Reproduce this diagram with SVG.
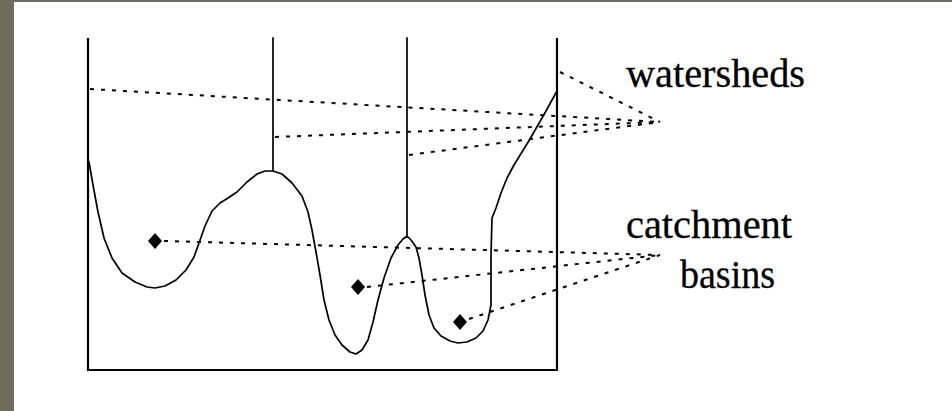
<svg xmlns="http://www.w3.org/2000/svg" width="952" height="411" viewBox="0 0 952 411">
  <style>
    .solid { fill: none; stroke: #000; stroke-width: 1.7; stroke-linejoin: round; stroke-linecap: square; }
    .box { fill: none; stroke: #000; stroke-width: 2.2; }
    .dot { fill: none; stroke: #000; stroke-width: 2; stroke-dasharray: 4 7; }
    .lbl { font-family: "Liberation Serif", "Times New Roman", serif; font-size: 39px; fill: #000; stroke: #000; stroke-width: 0.3; }
    .pt { fill: #000; }
  </style>
  <rect x="0" y="0" width="952" height="411" fill="#6d6d5d"/>
  <rect x="14" y="2" width="938" height="409" fill="#ffffff"/>

  <g id="container">
    <path class="box" d="M88,38 V370 H557 V38"/>
  </g>

  <g id="surface">
    <polyline class="solid" points="89,162 93,185 98,212 104,238 112,258 122,273 135,282 147,287 155,288 165,286 176,280 186,270 194,257 199,243 205,226 212,211 220,203 228,198 237,192 247,182 257,174 265,171 273,171 282,174 292,183 302,196 308,212 312,230 316,252 320,275 324,300 329,320 335,335 342,345 350,352 356,354 362,350 368,340 373,322 378,300 384,278 391,258 398,245 403,239 407,236 411,240 416,247 419,258 422,275 425,295 429,315 434,328 441,336 450,341 458,343 467,342 476,338 483,331 488,320 491,305 491,290 491,255 492,218 496,208 501,193 507,178 514,165 522,152 530,139 538,125 546,111 552,100 557,91"/>
    <line class="solid" x1="273" y1="38" x2="273" y2="171"/>
    <line class="solid" x1="407" y1="38" x2="407" y2="236"/>
  </g>

  <g id="minima">
    <polygon class="pt" points="155,233 162,241 155,249 148,241"/>
    <polygon class="pt" points="358,279 365,287 358,295 351,287"/>
    <polygon class="pt" points="460,314 467,322 460,330 453,322"/>
  </g>

  <g id="connectors">
    <line class="dot" x1="90" y1="89" x2="660" y2="122"/>
    <line class="dot" x1="275" y1="137" x2="660" y2="122"/>
    <line class="dot" x1="409" y1="155" x2="660" y2="122"/>
    <line class="dot" x1="560" y1="72" x2="660" y2="122"/>
    <line class="dot" x1="164" y1="241" x2="660" y2="255"/>
    <line class="dot" x1="367" y1="287" x2="660" y2="255"/>
    <line class="dot" x1="469" y1="319" x2="660" y2="255"/>
  </g>

  <g id="labels">
    <text class="lbl" x="626" y="87" textLength="179" lengthAdjust="spacingAndGlyphs">watersheds</text>
    <text class="lbl" x="626" y="238" textLength="166" lengthAdjust="spacingAndGlyphs">catchment</text>
    <text class="lbl" x="680" y="288" textLength="95" lengthAdjust="spacingAndGlyphs">basins</text>
  </g>
</svg>
